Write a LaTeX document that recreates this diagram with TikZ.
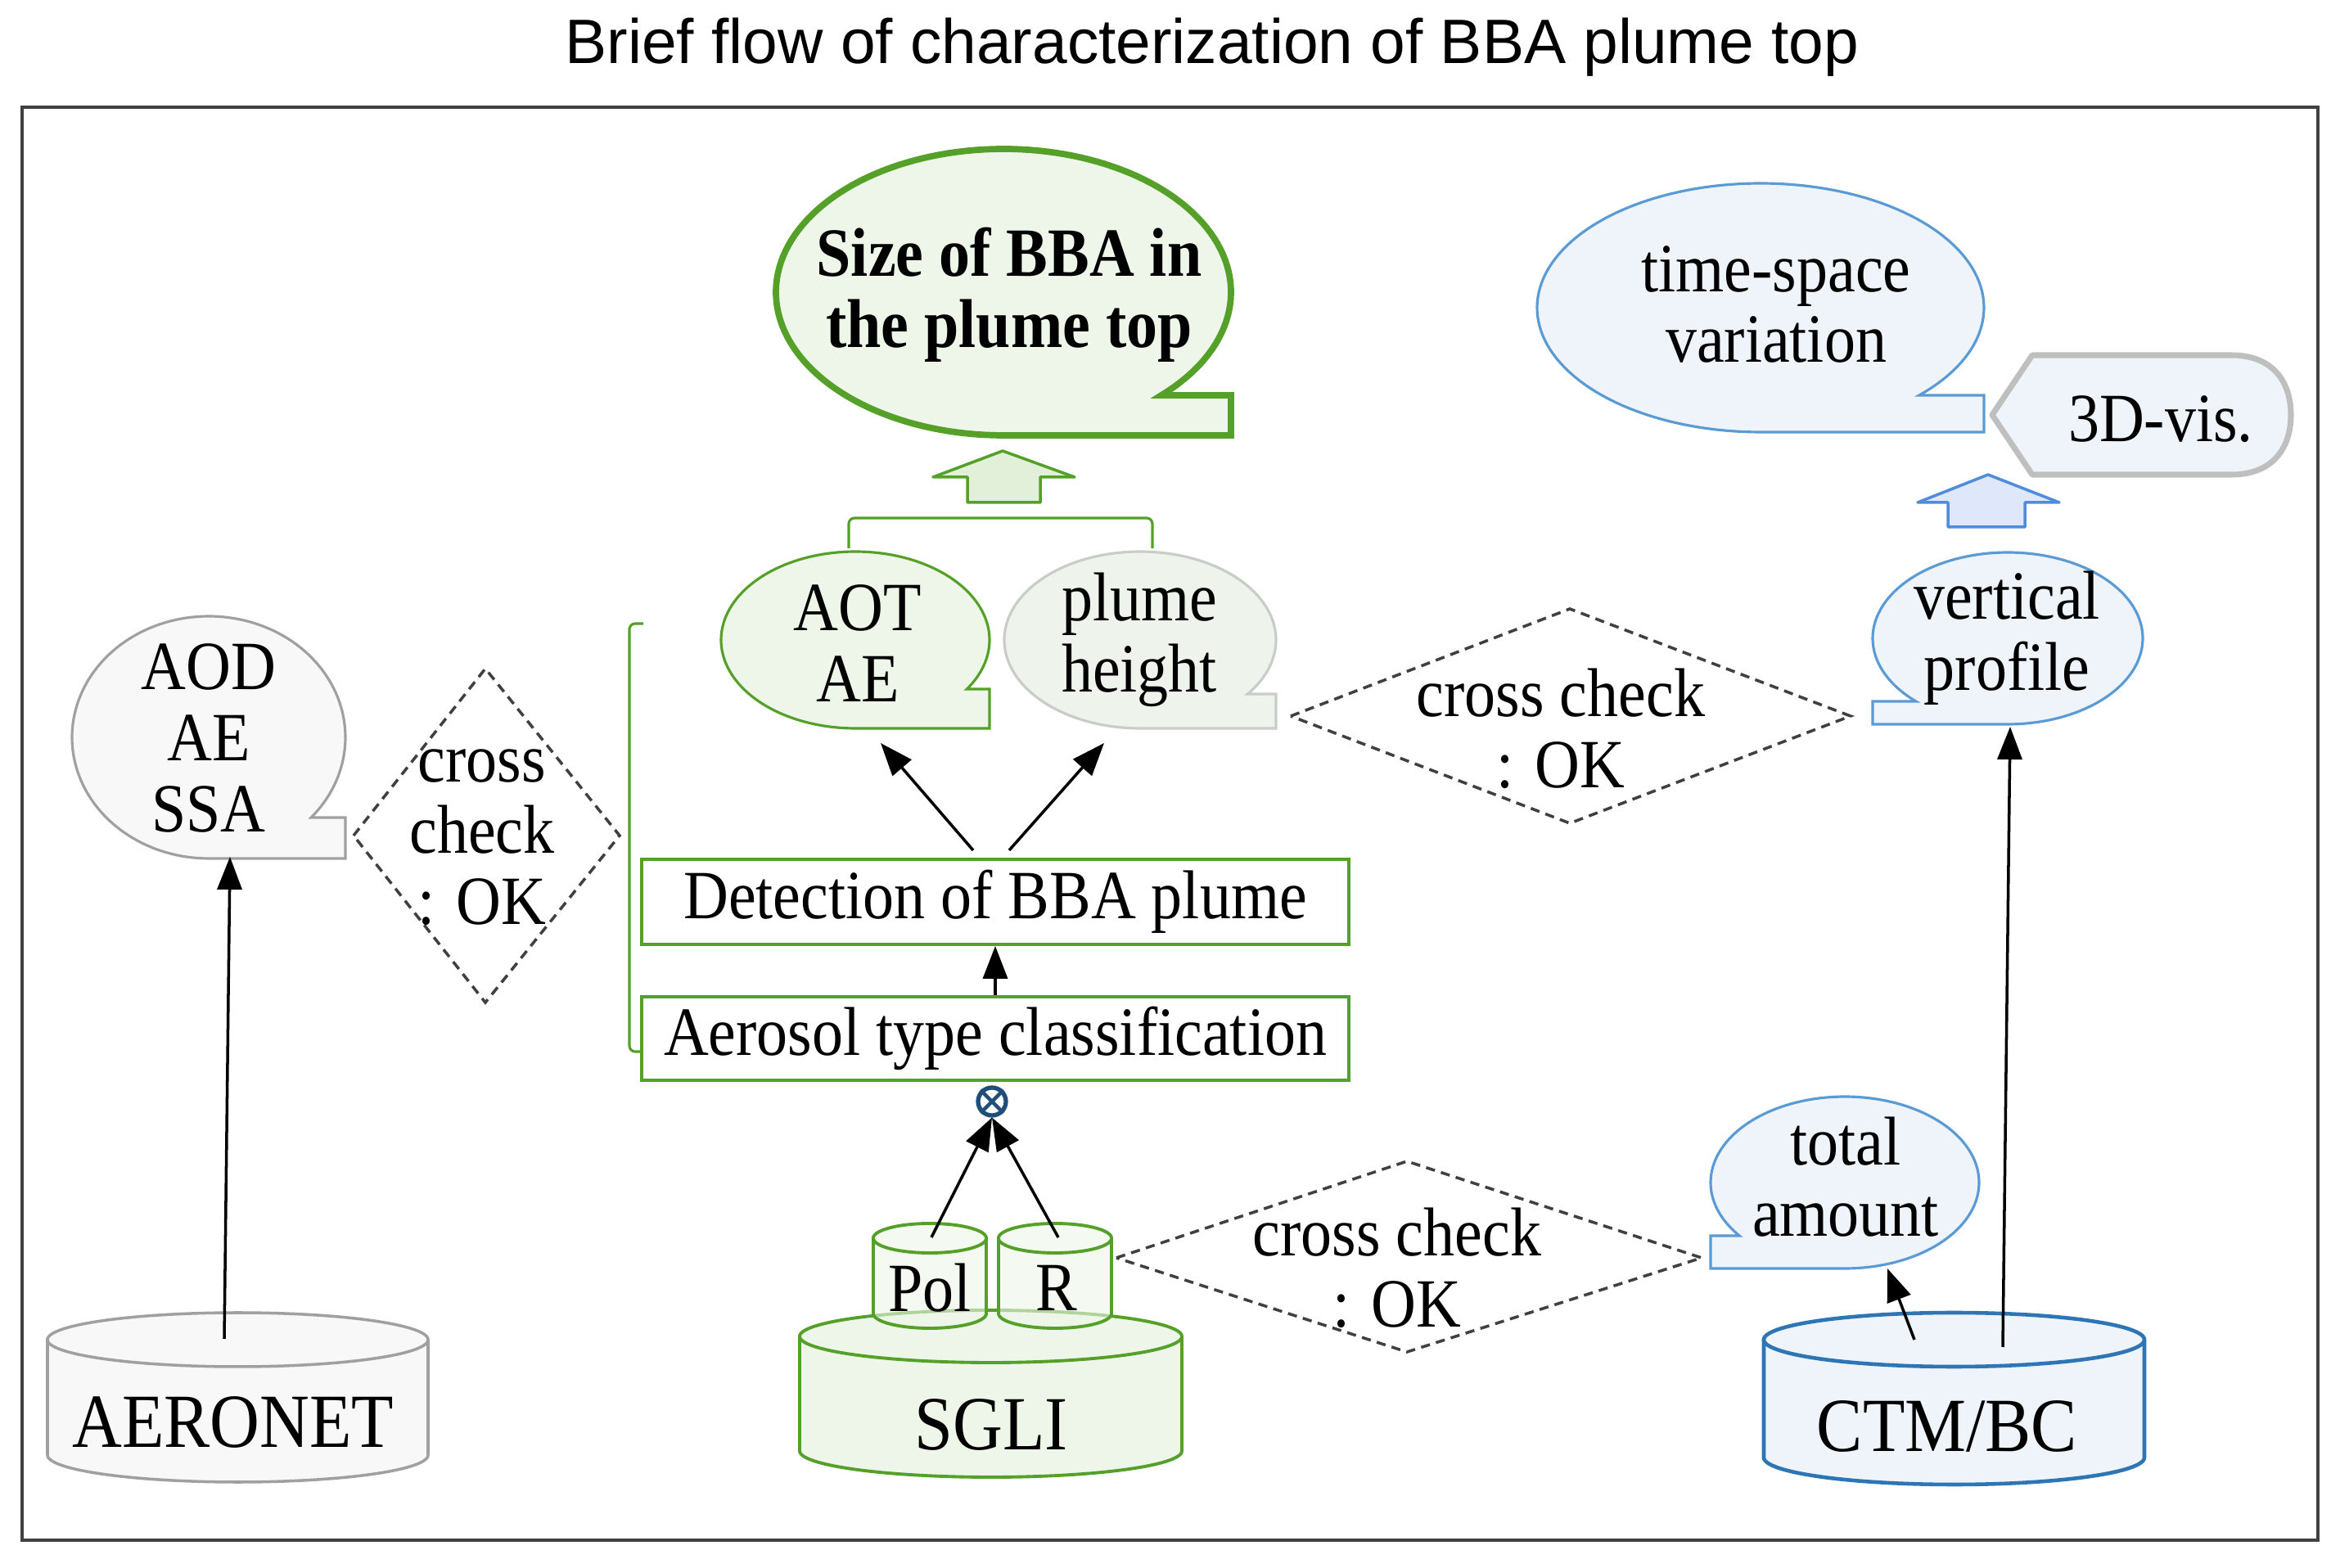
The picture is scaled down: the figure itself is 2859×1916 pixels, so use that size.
\documentclass[tikz,border=0pt]{standalone}
\usepackage{fontspec}
\setmainfont[FakeStretch=0.9]{Liberation Serif}
\newfontfamily\titlefont{Liberation Sans}
\usetikzlibrary{arrows.meta}
\definecolor{gline}{RGB}{84,160,40}
\definecolor{gfill}{RGB}{238,246,234}
\definecolor{garrow}{RGB}{226,240,217}
\definecolor{bline}{RGB}{91,155,213}
\definecolor{bdark}{RGB}{46,117,182}
\definecolor{bfill}{RGB}{238,244,250}
\definecolor{barrow}{RGB}{222,232,250}
\definecolor{barline}{RGB}{80,140,220}
\definecolor{grayline}{RGB}{160,160,160}
\definecolor{grayfill}{RGB}{248,248,248}
\definecolor{phline}{RGB}{200,205,200}
\definecolor{phfill}{RGB}{238,243,236}
\definecolor{visline}{RGB}{191,191,191}
\definecolor{otc}{RGB}{31,78,121}
\definecolor{framec}{RGB}{64,64,64}
\definecolor{ccgray}{RGB}{64,64,64}

% bubble with rectangular notch at bottom right: cx cy rx ry notchy style
\newcommand\bubR[6]{%
  \pgfmathsetmacro\bA{asin((#5-#2)/#4)}%
  \pgfmathsetmacro\bE{360+\bA}%
  \path[#6] plot[domain=90:\bE,samples=140,variable=\t] ({#1+#3*cos(\t)},{#2+#4*sin(\t)})
    -- ({#1+#3},#5) -- ({#1+#3},{#2+#4}) -- cycle;}
% bubble with notch at bottom left
\newcommand\bubL[6]{%
  \pgfmathsetmacro\bA{asin((#5-#2)/#4)}%
  \pgfmathsetmacro\bE{-180-\bA}%
  \path[#6] plot[domain=90:\bE,samples=140,variable=\t] ({#1+#3*cos(\t)},{#2+#4*sin(\t)})
    -- ({#1-#3},#5) -- ({#1-#3},{#2+#4}) -- cycle;}
% cylinder: left right top bottom ry style
\newcommand\cylshape[6]{%
  \pgfmathsetmacro\ccx{(#1+#2)/2}%
  \pgfmathsetmacro\crx{(#2-#1)/2}%
  \pgfmathsetmacro\cty{#3+#5}%
  \pgfmathsetmacro\cby{#4-#5}%
  \path[#6] (#1,\cty) -- (#1,\cby)
    -- plot[domain=180:0,samples=80,variable=\t] ({\ccx+\crx*cos(\t)},{\cby+#5*sin(\t)})
    -- (#2,\cty)
    -- plot[domain=0:-180,samples=80,variable=\t] ({\ccx+\crx*cos(\t)},{\cty+#5*sin(\t)})
    -- cycle;
  \path[#6,fill=none] plot[domain=0:180,samples=80,variable=\t] ({\ccx+\crx*cos(\t)},{\cty+#5*sin(\t)});}

\begin{document}
\begin{tikzpicture}[x=0.01cm,y=-0.01cm,
  txt/.style={align=center,inner sep=0pt,font=\fontsize{24}{24.7}\selectfont},
  bigtxt/.style={align=center,inner sep=0pt,font=\fontsize{26.6}{28}\selectfont},
  arr/.style={line width=1pt,-{Triangle[length=0.4cm,width=0.3cm]}},
  cc/.style={draw=ccgray,line width=1pt,dash pattern=on 3.2pt off 2.2pt},
  boxstyle/.style={draw=gline,line width=1.1pt,fill=white,txt,minimum width=8.64cm},
  greenbub/.style={draw=gline,fill=gfill,line width=0.9pt},
  bluebub/.style={draw=bline,fill=bfill,line width=0.9pt},
  graybub/.style={draw=grayline,fill=grayfill,line width=0.9pt},
]
\useasboundingbox (0,0) rectangle (2859,1916);
\fill[white] (0,0) rectangle (2859,1916);

% title and frame
\node[font=\titlefont\fontsize{21.8}{24}\selectfont,inner sep=0pt] (title) at (1481,58) {Brief flow of characterization of BBA plume top};
\draw[draw=framec,line width=1.2pt] (27,131) rectangle (2832,1882);

% ---- top green bubble and arrow
\bubR{1226}{357}{278}{175}{483}{draw=gline,fill=gfill,line width=2.2pt}
\node[txt,font=\fontsize{24}{24.7}\selectfont\bfseries] (size) at (1233,360) {Size of BBA in\\the plume top};
\draw[draw=gline,fill=garrow,line width=1pt,line join=round]
  (1225,551) -- (1313,583) -- (1271,583) -- (1271,614) -- (1182,614) -- (1182,583) -- (1140,583) -- cycle;
\draw[gline,line width=0.9pt,rounded corners=2pt] (1037,670) -- (1037,633) -- (1408,633) -- (1408,670);

% ---- AOT / plume height bubbles
\bubR{1045}{782}{164}{108}{842}{greenbub}
\node[txt] (aot) at (1048,786) {AOT\\AE};
\bubR{1393}{782}{166}{108}{848}{draw=phline,fill=phfill,line width=0.9pt}
\node[txt] (ph) at (1392,782) {plume\\height};

% ---- left bracket
\draw[gline,line width=0.9pt,rounded corners=2pt] (786,762) -- (769,762) -- (769,1285) -- (784,1285);

% ---- boxes
\node[boxstyle,minimum height=1.04cm] (det) at (1216,1102) {Detection of BBA plume};
\node[boxstyle,minimum height=1.02cm] (aer) at (1216,1269) {Aerosol type classification};
\draw[arr] (aer.north) -- (det.south);
\coordinate (d1) at (1189,1039);
\coordinate (d2) at (1233,1039);
\coordinate (aotb) at (1076,908);
\coordinate (phb) at (1349,908);
\draw[arr] (d1) -- (aotb);
\draw[arr] (d2) -- (phb);

% ---- otimes
\node[circle,draw=otc,line width=1.5pt,minimum size=0.34cm,inner sep=0pt] (ox) at (1212,1346) {};
\draw[otc,line width=1.3pt] (ox.north west) -- (ox.south east) (ox.north east) -- (ox.south west);

% ---- SGLI cylinders
\cylshape{977}{1444}{1601}{1805}{32}{draw=gline,fill=gfill,line width=1.1pt}
\node[bigtxt] (sgli) at (1211,1741) {SGLI};
\cylshape{1067}{1205}{1495}{1623}{18}{draw=gline,fill=gfill,fill opacity=0.6,line width=1.1pt}
\cylshape{1220}{1358}{1495}{1623}{18}{draw=gline,fill=gfill,fill opacity=0.6,line width=1.1pt}
\node[txt] (pol) at (1136,1574) {Pol};
\node[txt] (r) at (1291,1574) {R};
\coordinate (polt) at (1138,1512);
\coordinate (rt) at (1293,1512);
\draw[arr] (polt) -- (ox.south);
\draw[arr] (rt) -- (ox.south);

% ---- bottom cross check
\coordinate (bl) at (1364,1537); \coordinate (bt) at (1719,1419);
\coordinate (br) at (2079,1537); \coordinate (bb) at (1719,1652);
\draw[cc] (bl) -- (bt) -- (br) -- (bb) -- cycle;
\node[txt] (cc3) at (1707,1549) {cross check\\: OK};

% ---- total amount and CTM
\bubL{2254}{1445}{164}{105}{1510}{bluebub}
\node[txt] (ta) at (2255,1438) {total\\amount};
\cylshape{2155}{2620}{1604}{1814}{33}{draw=bdark,fill=bfill,line width=1.3pt}
\node[bigtxt] (ctm) at (2379,1743) {CTM/BC};
\coordinate (ctm1) at (2339,1637);
\coordinate (tab) at (2306,1550);
\draw[arr] (ctm1) -- (tab);
\coordinate (ctm2) at (2447,1646);
\coordinate (vpb) at (2456,888);
\draw[arr] (ctm2) -- (vpb);

% ---- vertical profile
\bubL{2453}{780}{165}{105}{857}{bluebub}
\node[txt] (vp) at (2452,780) {vertical\\profile};

% ---- middle cross check
\coordinate (ml) at (1577,875); \coordinate (mt) at (1918,744);
\coordinate (mr) at (2261,875); \coordinate (mb) at (1918,1006);
\draw[cc] (ml) -- (mt) -- (mr) -- (mb) -- cycle;
\node[txt] (cc2) at (1907,890) {cross check\\: OK};

% ---- blue arrow, time-space, 3D-vis
\draw[draw=barline,fill=barrow,line width=1pt,line join=round]
  (2429,580) -- (2516,614) -- (2474,614) -- (2474,644) -- (2380,644) -- (2380,614) -- (2343,614) -- cycle;
\bubR{2151}{376}{273}{152}{483}{bluebub}
\node[txt] (ts) at (2170,372) {time-space\\variation};
\draw[draw=visline,fill=bfill,line width=2pt,line join=round]
  (2434,507) -- (2483,434) -- (2726,434) .. controls (2780,434) and (2799,470) .. (2799,507)
  .. controls (2799,544) and (2780,580) .. (2726,580) -- (2483,580) -- cycle;
\node[txt] (vis) at (2640,512) {3D-vis.};

% ---- left side
\bubR{255}{901}{167}{148}{999}{graybub}
\node[txt] (aod) at (255,902) {AOD\\AE\\SSA};
\coordinate (ll) at (432,1021); \coordinate (lt) at (593,817);
\coordinate (lr) at (757,1021); \coordinate (lb) at (593,1225);
\draw[cc] (ll) -- (lt) -- (lr) -- (lb) -- cycle;
\node[txt] (cc1) at (589,1023) {cross\\check\\: OK};
\cylshape{58}{523}{1604}{1811}{33}{draw=grayline,fill=grayfill,line width=1pt}
\node[bigtxt] (aeronet) at (285,1738) {AERONET};
\coordinate (aert) at (274,1636);
\coordinate (aodb) at (281,1047);
\draw[arr] (aert) -- (aodb);
\end{tikzpicture}
\end{document}
